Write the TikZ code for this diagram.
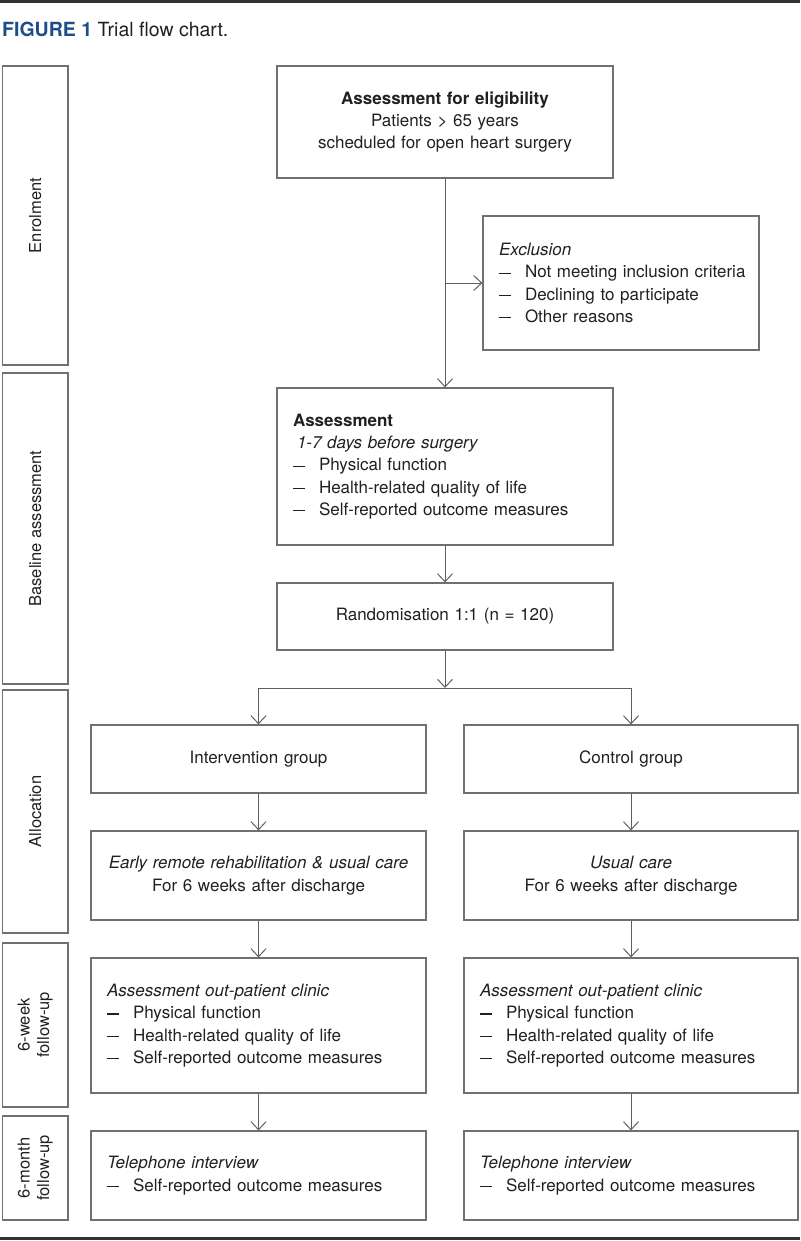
\documentclass[tikz,border=0pt]{standalone}
\usepackage{fontspec}
\setmainfont{TeX Gyre Heros}
\usetikzlibrary{arrows.meta}
\definecolor{txt}{RGB}{35,31,32}
\definecolor{boxc}{RGB}{112,112,112}
\definecolor{arrc}{RGB}{95,95,95}
\definecolor{figblue}{RGB}{30,78,135}
\definecolor{rulec}{RGB}{50,50,50}
\newcommand{\dashitem}[1]{\mbox{\makebox[26pt][l]{\rule[4pt]{11.5pt}{1.25pt}}#1}}
\begin{document}
\begin{tikzpicture}[x=1pt,y=-1pt,
  bx/.style={draw=boxc, line width=1.2pt, rectangle, inner xsep=16pt, inner ysep=0pt,
    align=left, font=\fontsize{17}{22.3}\selectfont, text=txt},
  bxc/.style={bx, align=center},
  side/.style={draw=boxc, line width=1.2pt, rectangle, inner sep=0pt, rotate=90,
    minimum height=65.5pt, align=center, font=\fontsize{16.5}{19.5}\selectfont, text=txt},
  con/.style={draw=arrc, line width=1pt},
  arr/.style={con, -{Straight Barb[length=8pt,width=15pt,line width=1pt]}}
]
\useasboundingbox (0,0) rectangle (800,1241);
% rules
\draw[rulec, line width=2.6pt] (0,1.3) -- (800,1.3);
\draw[rulec, line width=2.7pt] (0,1238.6) -- (800,1238.6);
% title
\node[anchor=base west, inner sep=0pt, font=\fontsize{19.5}{22}\selectfont, text=txt] (title) at (2,36.5)
  {\textcolor{figblue}{\textbf{FIGURE 1}} Trial flow chart.};
% side labels
\node[side, minimum width=299pt] (enrol) at (35.25,215.5) {Enrolment};
\node[side, minimum width=311pt] (base) at (35.25,528.5) {Baseline assessment};
\node[side, minimum width=243pt] (alloc) at (35.25,811.5) {Allocation};
\node[side, minimum width=164pt] (wk6) at (35.25,1025) {6-week\\follow-up};
\node[side, minimum width=104pt] (mo6) at (35.25,1168) {6-month\\follow-up};
% central column
\node[bxc, minimum width=336pt, minimum height=112pt, text width=304pt] (elig) at (445,122)
  {\textbf{Assessment for eligibility}\\Patients > 65 years\\scheduled for open heart surgery};
\node[bx, minimum width=276pt, minimum height=134pt, text width=244pt] (excl) at (621,283)
  {\textit{Exclusion}\\\dashitem{Not meeting inclusion criteria}\\\dashitem{Declining to participate}\\\dashitem{Other reasons}};
\node[bx, minimum width=336pt, minimum height=157pt, text width=304pt] (assess) at (445,466.5)
  {\textbf{Assessment}\\\hspace*{4pt}\textit{1-7 days before surgery}\\\dashitem{Physical function}\\\dashitem{Health-related quality of life}\\\dashitem{Self-reported outcome measures}};
\node[bxc, minimum width=336pt, minimum height=67pt, text width=304pt] (rand) at (445,616.5)
  {Randomisation 1:1 (n = 120)};
% left column
\node[bxc, minimum width=335pt, minimum height=68pt, text width=303pt] (interv) at (258.5,759)
  {Intervention group};
\node[bxc, minimum width=335pt, minimum height=89pt, text width=303pt] (early) at (258.5,875.5)
  {\textit{Early remote rehabilitation \& usual care}\\For 6 weeks after discharge};
\node[bx, minimum width=335pt, minimum height=135pt, text width=303pt] (fuL) at (258.5,1025.5)
  {\textit{Assessment out-patient clinic}\\\dashitem{Physical function}\\\dashitem{Health-related quality of life}\\\dashitem{Self-reported outcome measures}};
\node[bx, minimum width=335pt, minimum height=89pt, text width=303pt] (telL) at (258.5,1175.5)
  {\textit{Telephone interview}\\\dashitem{Self-reported outcome measures}};
% right column
\node[bxc, minimum width=334pt, minimum height=68pt, text width=302pt] (control) at (631,759)
  {Control group};
\node[bxc, minimum width=334pt, minimum height=89pt, text width=302pt] (usual) at (631,875.5)
  {\textit{Usual care}\\For 6 weeks after discharge};
\node[bx, minimum width=334pt, minimum height=135pt, text width=302pt] (fuR) at (631,1025.5)
  {\textit{Assessment out-patient clinic}\\\dashitem{Physical function}\\\dashitem{Health-related quality of life}\\\dashitem{Self-reported outcome measures}};
\node[bx, minimum width=334pt, minimum height=89pt, text width=302pt] (telR) at (631,1175.5)
  {\textit{Telephone interview}\\\dashitem{Self-reported outcome measures}};
% connectors
\coordinate (br) at (445,283);
\coordinate (split) at (445,688);
\coordinate (splitL) at (258.5,688);
\coordinate (splitR) at (631,688);
\draw[arr] (elig.south) -- (assess.north);
\draw[arr] (br) -- (excl.west);
\draw[arr] (assess.south) -- (rand.north);
\draw[arr] (rand.south) -- (split);
\draw[con] (splitL) -- (splitR);
\draw[arr] (splitL) -- (interv.north);
\draw[arr] (splitR) -- (control.north);
\draw[arr] (interv) -- (early);
\draw[arr] (early) -- (fuL);
\draw[arr] (fuL) -- (telL);
\draw[arr] (control) -- (usual);
\draw[arr] (usual) -- (fuR);
\draw[arr] (fuR) -- (telR);
\end{tikzpicture}
\end{document}
